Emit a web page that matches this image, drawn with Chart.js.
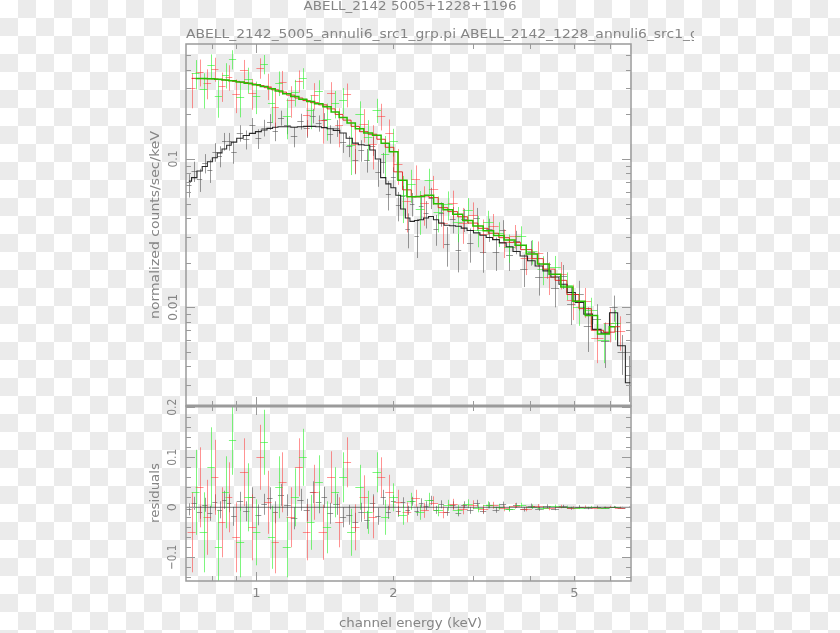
<!DOCTYPE html>
<html>
<head>
<meta charset="utf-8">
<script src="https://cdn.jsdelivr.net/npm/chart.js@4.4.1/dist/chart.umd.min.js"></script>
<style>
  html, body { margin: 0; padding: 0; }
  body {
    width: 840px; height: 633px; overflow: hidden; position: relative;
    background-color: #fff;
    background-image: conic-gradient(#ebebeb 25%, #fff 0 50%, #ebebeb 0 75%, #fff 0);
    background-size: 36px 36px;
  }
  canvas { position: absolute; left: 0; top: 0; }
</style>
</head>
<body>
<canvas id="specChart" width="840" height="633"></canvas>
<canvas id="residChart" width="840" height="633"></canvas>
<script>
// ---- obs 5005 (black) ----
const blackEnergy = [0.71,0.73,0.75,0.77,0.79,0.81,0.83,0.85,0.87,0.89,
  0.92,0.95,0.98,1.01,1.04,1.07,1.10,1.13,1.17,1.21,1.25,1.29,1.33,1.37,1.41,1.45,
  1.50,1.55,1.60,1.65,1.70,1.75,1.80,1.85,1.90,1.95,2.00,2.05,2.10,2.15,2.20,2.25,2.30,
  2.36,2.42,2.48,2.55,2.62,2.70,2.78,2.86,2.95,3.05,3.15,3.25,3.36,3.48,3.60,3.73,3.87,
  4.02,4.18,4.35,4.53,4.72,4.92,5.13,5.36,5.60,5.85,6.10,6.35,6.60,6.85];
const blackRate = [0.067,0.083,0.073,0.094,0.084,0.112,0.105,0.132,0.132,0.112,
  0.150,0.136,0.169,0.138,0.163,0.179,0.154,0.190,0.169,0.142,0.180,0.161,0.196,0.175,0.183,0.148,
  0.162,0.130,0.123,0.098,0.115,0.099,0.123,0.082,0.095,0.058,0.076,0.049,0.056,0.034,0.050,0.0305,0.048,
  0.043,0.055,0.034,0.043,0.0268,0.0395,0.0242,0.0392,0.0270,0.0398,0.0236,0.0336,0.0236,0.0332,0.0226,0.0278,0.0182,
  0.0236,0.0160,0.0196,0.0135,0.0163,0.0106,0.0123,0.0075,0.0083,0.0059,0.0100,0.0050,0.0035,0.0026];
const blackErr = [0.012,0.013,0.013,0.014,0.015,0.016,0.017,0.018,0.018,0.019,
  0.019,0.02,0.02,0.021,0.021,0.022,0.022,0.022,0.022,0.022,0.022,0.022,0.022,0.022,0.021,0.021,
  0.021,0.02,0.02,0.019,0.019,0.018,0.018,0.017,0.015,0.013,0.012,0.011,0.01,0.009,0.009,0.009,0.009,
  0.009,0.009,0.008,0.008,0.008,0.008,0.007,0.007,0.007,0.007,0.0065,0.006,0.006,0.0055,0.005,0.005,0.0045,
  0.0045,0.004,0.004,0.0035,0.003,0.003,0.0028,0.0025,0.0022,0.002,0.002,0.0015,0.0012,0.001];
const blackModel = [0.071,0.075,0.083,0.089,0.096,0.102,0.110,0.117,0.124,0.130,
  0.138,0.144,0.149,0.153,0.157,0.161,0.164,0.165,0.165,0.164,0.165,0.166,0.166,0.165,0.163,0.160,
  0.156,0.150,0.138,0.128,0.125,0.124,0.115,0.100,0.075,0.068,0.064,0.057,0.046,0.040,0.038,0.0385,0.039,
  0.040,0.041,0.039,0.037,0.0358,0.0355,0.0352,0.0342,0.0330,0.0318,0.0306,0.0296,0.0286,0.0272,0.0256,0.0238,0.0222,
  0.0206,0.0190,0.0176,0.0160,0.0143,0.0126,0.0108,0.0090,0.0071,0.0067,0.0092,0.0055,0.0031,0.0024];

// ---- obs 1228 (red) ----
const redEnergy = [0.72,0.75,0.78,0.81,0.84,0.87,0.90,0.94,0.98,1.02,1.06,1.10,1.14,1.19,1.24,1.29,
  1.34,1.40,1.46,1.52,1.58,1.65,1.72,1.80,1.88,1.96,2.05,2.14,2.24,2.34,2.45,2.57,2.70,2.84,2.99,
  3.15,3.32,3.50,3.70,3.92,4.15,4.40,4.67,4.96,5.28,5.62,5.98,6.30];
const redRate = [0.300,0.389,0.328,0.407,0.313,0.359,0.274,0.398,0.281,0.413,0.313,0.223,0.333,0.250,0.338,0.198,
  0.270,0.182,0.278,0.170,0.273,0.126,0.173,0.127,0.196,0.150,0.092,0.052,0.0736,0.0505,0.063,0.037,0.0502,0.0368,0.042,
  0.0311,0.0356,0.0275,0.0304,0.0215,0.0233,0.0161,0.0167,0.0112,0.0110,0.0062,0.0078,0.0069];
const redErr = [0.08,0.08,0.075,0.075,0.07,0.07,0.07,0.068,0.066,0.065,0.063,0.062,0.06,0.06,0.058,0.056,
  0.055,0.055,0.052,0.05,0.05,0.046,0.044,0.042,0.04,0.035,0.025,0.02,0.017,0.015,0.014,0.012,0.011,0.01,0.009,
  0.008,0.007,0.006,0.0055,0.005,0.0045,0.004,0.0035,0.003,0.0025,0.002,0.002,0.0018];
const redModel = [0.350,0.349,0.348,0.347,0.343,0.339,0.334,0.328,0.321,0.313,0.303,0.293,0.283,0.270,0.258,0.248,
  0.240,0.232,0.218,0.200,0.183,0.166,0.153,0.147,0.136,0.120,0.082,0.062,0.0556,0.0565,0.0550,0.0470,0.0442,0.0408,0.0370,
  0.0341,0.0316,0.0295,0.0274,0.0245,0.0213,0.0181,0.0152,0.0122,0.0098,0.0070,0.0068,0.0074];

// ---- obs 1196 (green) ----
const greenEnergy = [0.735,0.765,0.795,0.825,0.855,0.885,0.92,0.96,1.00,1.04,1.08,1.12,1.165,1.215,1.265,1.315,
  1.37,1.43,1.49,1.55,1.615,1.685,1.76,1.84,1.92,2.00,2.095,2.19,2.29,2.395,2.51,2.635,2.77,2.915,
  3.07,3.235,3.41,3.60,3.81,4.03,4.27,4.53,4.81,5.12,5.45,5.80,6.14];
const greenRate = [0.380,0.299,0.428,0.265,0.371,0.472,0.261,0.345,0.267,0.438,0.238,0.328,0.196,0.284,0.353,0.214,
  0.286,0.185,0.238,0.251,0.125,0.200,0.140,0.215,0.108,0.132,0.057,0.0676,0.0458,0.072,0.044,0.0495,0.0375,0.0455,
  0.0334,0.0378,0.0315,0.0255,0.0302,0.0239,0.0181,0.0187,0.0142,0.0100,0.0096,0.0060,0.0078];
const greenErr = [0.085,0.08,0.08,0.075,0.072,0.07,0.07,0.068,0.066,0.065,0.063,0.062,0.06,0.058,0.057,0.055,
  0.054,0.052,0.05,0.05,0.047,0.045,0.043,0.04,0.035,0.028,0.02,0.017,0.015,0.014,0.012,0.011,0.01,0.009,
  0.008,0.007,0.006,0.0055,0.005,0.0045,0.004,0.0035,0.003,0.0025,0.002,0.0018,0.0018];
const greenModel = [0.350,0.349,0.348,0.345,0.341,0.337,0.331,0.325,0.317,0.308,0.298,0.288,0.276,0.264,0.253,0.244,
  0.236,0.225,0.208,0.191,0.175,0.160,0.150,0.145,0.128,0.112,0.072,0.0556,0.0558,0.0570,0.0500,0.0455,0.0425,0.0385,
  0.0354,0.0328,0.0305,0.0285,0.0262,0.0229,0.0196,0.0167,0.0137,0.0110,0.0088,0.0066,0.0074];

// ---- axes ----
const xMajorTicks = [1];
const xMinorTicks = [0.8, 0.9, 2, 3, 4, 5, 6];
const xTickLabels = [1, 2, 5];
const specMajorTicks = [0.01, 0.1];
const specMinorTicks = [0.003,0.004,0.005,0.006,0.007,0.008,0.009,0.02,0.03,0.04,0.05,0.06,0.07,0.08,0.09,0.2,0.3,0.4,0.5];
const specTickLabels = [0.01, 0.1];
const residMajorTicks = [-0.1, 0, 0.1, 0.2];
const residMinorTicks = [-0.14,-0.12,-0.08,-0.06,-0.04,-0.02,0.02,0.04,0.06,0.08,0.12,0.14,0.16,0.18];
const residTickLabels = [-0.1, 0, 0.1, 0.2];
const residZero = [0, 0];

const plotTitle = 'ABELL_2142 5005+1228+1196';
const plotSubtitle = 'ABELL_2142_5005_annuli6_src1_grp.pi ABELL_2142_1228_annuli6_src1_grp.pi ABELL_2142_1196_annuli6_src1_grp.pi';

const textColor = '#858585';
const frameColor = '#9a9a9a';
const fontFamily = '"DejaVu Sans", sans-serif';

function pts(energy, vals, errs) {
  return energy.map((e, i) => ({ x: e, y: vals[i], err: errs ? errs[i] : 0 }));
}
function resid(energy, rate, model, errs) {
  return energy.map((e, i) => ({ x: e, y: rate[i] - model[i], err: errs[i] }));
}

function drawLabel(ctx, text, x, y, opt) {
  ctx.save();
  ctx.font = (opt.size || 13) + 'px ' + fontFamily;
  ctx.fillStyle = textColor;
  ctx.textBaseline = 'middle';
  ctx.textAlign = 'left';
  const w = ctx.measureText(text).width;
  const sx = opt.width ? opt.width / w : 1;
  ctx.translate(x, y);
  if (opt.rotate) ctx.rotate(-Math.PI / 2);
  ctx.scale(sx, 1);
  ctx.fillText(text, opt.align === 'left' ? 0 : -w / 2, 0);
  ctx.restore();
}

const errorBarPlugin = {
  id: 'errorBars',
  beforeDatasetsDraw(chart) {
    const ctx = chart.ctx, a = chart.chartArea;
    const xs = chart.scales.x, ys = chart.scales.y;
    const logY = ys.type === 'logarithmic';
    ctx.save();
    ctx.beginPath();
    ctx.rect(a.left, a.top, a.right - a.left, a.bottom - a.top);
    ctx.clip();
    ctx.lineWidth = 1;
    chart.data.datasets.forEach(ds => {
      if (!ds.errorBars) return;
      const d = ds.data;
      ctx.strokeStyle = ds.errorColor;
      ctx.beginPath();
      d.forEach((p, i) => {
        const px = xs.getPixelForValue(p.x);
        const prev = i > 0 ? xs.getPixelForValue(d[i - 1].x) : null;
        const next = i < d.length - 1 ? xs.getPixelForValue(d[i + 1].x) : null;
        const hl = prev !== null ? (px - prev) / 2 : (next - px) / 2;
        const hr = next !== null ? (next - px) / 2 : (px - prev) / 2;
        const py = Math.round(ys.getPixelForValue(p.y)) + 0.5;
        const lo = logY ? Math.max(p.y - p.err, 1e-5) : p.y - p.err;
        const y1 = ys.getPixelForValue(p.y + p.err);
        const y2 = ys.getPixelForValue(lo);
        const cx = Math.round(px) + 0.5;
        ctx.moveTo(cx, y1); ctx.lineTo(cx, y2);
        ctx.moveTo(px - hl, py); ctx.lineTo(px + hr, py);
      });
      ctx.stroke();
    });
    ctx.restore();
  }
};

function frameAndTicks(chart, yMajor, yMinor) {
  const ctx = chart.ctx, a = chart.chartArea;
  const xs = chart.scales.x, ys = chart.scales.y;
  ctx.save();
  ctx.strokeStyle = frameColor;
  ctx.lineWidth = 1.5;
  ctx.strokeRect(a.left, a.top, a.right - a.left, a.bottom - a.top);
  ctx.lineWidth = 1;
  ctx.beginPath();
  const xt = xMajorTicks.map(v => [v, 9]).concat(xMinorTicks.map(v => [v, 5]));
  xt.forEach(([v, len]) => {
    const px = Math.round(xs.getPixelForValue(v)) + 0.5;
    ctx.moveTo(px, a.top); ctx.lineTo(px, a.top + len);
    ctx.moveTo(px, a.bottom); ctx.lineTo(px, a.bottom - len);
  });
  const yt = yMajor.map(v => [v, 9]).concat(yMinor.map(v => [v, 5]));
  yt.forEach(([v, len]) => {
    const py = Math.round(ys.getPixelForValue(v)) + 0.5;
    ctx.moveTo(a.left, py); ctx.lineTo(a.left + len, py);
    ctx.moveTo(a.right, py); ctx.lineTo(a.right - len, py);
  });
  ctx.stroke();
  ctx.restore();
}

const specDecor = {
  id: 'specDecor',
  afterDraw(chart) {
    const ctx = chart.ctx, ys = chart.scales.y;
    frameAndTicks(chart, specMajorTicks, specMinorTicks);
    drawLabel(ctx, plotTitle, 410, 6.5, { width: 213 });
    // subtitle runs off the plot, clipped like the original
    ctx.save();
    ctx.font = '13px ' + fontFamily;
    const w1 = ctx.measureText('ABELL_2142_5005_annuli6_src1_grp.pi').width;
    ctx.beginPath(); ctx.rect(0, 20, 694, 30); ctx.clip();
    ctx.fillStyle = textColor;
    ctx.textBaseline = 'middle';
    ctx.translate(186, 35);
    ctx.scale(270 / w1, 1);
    ctx.fillText(plotSubtitle, 0, 0);
    ctx.restore();
    drawLabel(ctx, 'normalized counts/sec/keV', 156, 225, { rotate: true, width: 188 });
    const widths = { '0.01': 27, '0.1': 17 };
    specTickLabels.forEach(v => {
      const t = String(v);
      drawLabel(ctx, t, 174, ys.getPixelForValue(v), { rotate: true, width: widths[t] });
    });
  }
};

const residDecor = {
  id: 'residDecor',
  afterDraw(chart) {
    const ctx = chart.ctx, xs = chart.scales.x, ys = chart.scales.y, a = chart.chartArea;
    frameAndTicks(chart, residMajorTicks, residMinorTicks);
    ctx.save();
    ctx.strokeStyle = frameColor;
    ctx.lineWidth = 3;
    ctx.beginPath(); ctx.moveTo(a.left, a.top); ctx.lineTo(a.right, a.top); ctx.stroke();
    ctx.restore();
    const widths = { '-0.1': 25, '0': 8, '0.1': 17, '0.2': 17 };
    residTickLabels.forEach(v => {
      const t = String(v);
      drawLabel(ctx, t === '-0.1' ? '\u22120.1' : t, 173, ys.getPixelForValue(v), { rotate: true, width: widths[t] });
    });
    xTickLabels.forEach(v => drawLabel(ctx, String(v), xs.getPixelForValue(v), 594, {}));
    drawLabel(ctx, 'residuals', 156, 493, { rotate: true, width: 60 });
    drawLabel(ctx, 'channel energy (keV)', 410.5, 624, { width: 143 });
  }
};

const blackBar = 'rgba(85,85,85,0.6)';
const redBar = 'rgba(255,40,40,0.5)';
const greenBar = 'rgba(40,240,40,0.6)';
const blackLine = 'rgba(20,20,20,0.9)';
const redLine = 'rgba(225,20,20,0.85)';
const greenLine = 'rgba(40,190,0,1)';

function modelSet(label, energy, model, color, width) {
  return { label, data: pts(energy, model), showLine: true, stepped: 'middle',
    borderColor: color, borderWidth: width, pointRadius: 0, fill: false };
}
function dataSet(label, points, color) {
  return { label, data: points, errorBars: true, errorColor: color, pointRadius: 0, showLine: false };
}

const commonX = { type: 'logarithmic', min: 0.7, max: 6.66, display: false, bounds: 'data' };

// chart.js draws the first dataset on top, so the green model comes first
new Chart(document.getElementById('specChart'), {
  type: 'scatter',
  data: {
    datasets: [
      modelSet('1196 model', greenEnergy, greenModel, greenLine, 1.5),
      modelSet('1228 model', redEnergy, redModel, redLine, 1),
      modelSet('5005 model', blackEnergy, blackModel, blackLine, 1.1),
      dataSet('5005', pts(blackEnergy, blackRate, blackErr), blackBar),
      dataSet('1228', pts(redEnergy, redRate, redErr), redBar),
      dataSet('1196', pts(greenEnergy, greenRate, greenErr), greenBar)
    ]
  },
  options: {
    responsive: false, animation: false,
    layout: { padding: { left: 186, top: 44, right: 209, bottom: 227 } },
    plugins: { legend: { display: false }, tooltip: { enabled: false } },
    scales: {
      x: commonX,
      y: { type: 'logarithmic', min: 0.00216, max: 0.597, display: false, bounds: 'data' }
    }
  },
  plugins: [errorBarPlugin, specDecor]
});

new Chart(document.getElementById('residChart'), {
  type: 'scatter',
  data: {
    datasets: [
      { label: 'zero', data: [{ x: 0.7, y: residZero[0] }, { x: 6.66, y: residZero[1] }], showLine: true,
        borderColor: 'rgba(60,60,60,0.7)', borderWidth: 1, pointRadius: 0 },
      dataSet('5005', resid(blackEnergy, blackRate, blackModel, blackErr), blackBar),
      dataSet('1228', resid(redEnergy, redRate, redModel, redErr), redBar),
      dataSet('1196', resid(greenEnergy, greenRate, greenModel, greenErr), greenBar)
    ]
  },
  options: {
    responsive: false, animation: false,
    layout: { padding: { left: 186, top: 406, right: 209, bottom: 52 } },
    plugins: { legend: { display: false }, tooltip: { enabled: false } },
    scales: {
      x: commonX,
      y: { type: 'linear', min: -0.1474, max: 0.2026, display: false, bounds: 'data' }
    }
  },
  plugins: [errorBarPlugin, residDecor]
});
</script>
</body>
</html>
